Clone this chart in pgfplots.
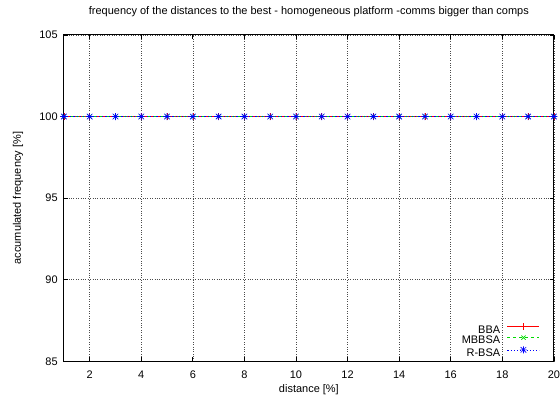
\documentclass[border=0pt]{standalone}
\usepackage{fontspec}
\setmainfont{Liberation Sans}
\usepackage{pgfplots}
\pgfplotsset{compat=1.18}
\newcommand\fs{\fontsize{11bp}{13bp}\selectfont}
\definecolor{gpred}{RGB}{255,0,0}
\definecolor{gpgreen}{RGB}{0,220,0}
\definecolor{gpblue}{RGB}{0,0,255}
\pgfdeclareplotmark{gpstar}{%
 \pgfpathmoveto{\pgfqpoint{-\pgfplotmarksize}{0pt}}\pgfpathlineto{\pgfqpoint{\pgfplotmarksize}{0pt}}%
 \pgfpathmoveto{\pgfqpoint{0pt}{-\pgfplotmarksize}}\pgfpathlineto{\pgfqpoint{0pt}{\pgfplotmarksize}}%
 \pgfpathmoveto{\pgfqpoint{-.8\pgfplotmarksize}{-.8\pgfplotmarksize}}\pgfpathlineto{\pgfqpoint{.8\pgfplotmarksize}{.8\pgfplotmarksize}}%
 \pgfpathmoveto{\pgfqpoint{-.8\pgfplotmarksize}{.8\pgfplotmarksize}}\pgfpathlineto{\pgfqpoint{.8\pgfplotmarksize}{-.8\pgfplotmarksize}}%
 \pgfusepathqstroke}
\begin{document}
\begin{tikzpicture}
\path (0,0) rectangle (560bp,401bp);
\begin{axis}[
 at={(64bp,39bp)}, anchor=south west,
 scale only axis, width=491bp, height=327bp,
 xmin=1, xmax=20, ymin=85, ymax=105,
 xtick={2,4,...,20}, ytick={85,90,...,105},
 grid=major, grid style={dotted, black!70, line width=0.6bp},
 tick align=inside, major tick length=4bp,
 axis line style={line width=0.9bp, black},
 tick style={black, line width=0.7bp},
 /pgf/number format/assume math mode=true,
 xticklabel style={font=\fs, anchor=center, inner sep=0pt, yshift=-13bp},
 yticklabel style={font=\fs, anchor=east, inner sep=0pt, xshift=-6bp},
 title={frequency of the distances to the best - homogeneous platform -comms bigger than comps},
 title style={font=\fs, at={(axis description cs:0.5,1)}, anchor=center, yshift=17bp},
 xlabel={distance [\%]},
 xlabel style={font=\fs, at={(axis description cs:0.5,0)}, anchor=center, yshift=-28bp},
 ylabel={accumulated frequency [\%]},
 ylabel style={font=\fs, at={(axis description cs:-0.0937,0.5)}, anchor=center, rotate=0},
 clip=false,
 legend style={draw=none, fill=none, at={(axis description cs:1,0)}, anchor=south east,
   xshift=-14bp, yshift=2.5bp, inner sep=0pt, font=\fs,
   nodes={inner sep=0pt, text height=8bp, text depth=2.5bp},
   column sep=7bp, row sep=0pt},
 legend cell align=right, legend plot pos=right,
 legend image code/.code={\draw[mark repeat=2,mark phase=2,#1] plot coordinates {(0bp,3.5bp) (16bp,3.5bp) (32bp,3.5bp)};},
]
\addplot[gpred, line width=0.6bp, mark=+, mark size=3.5bp, mark options={solid}] coordinates {
(1,100) (2,100) (3,100) (4,100) (5,100) (6,100) (7,100) (8,100) (9,100) (10,100)
(11,100) (12,100) (13,100) (14,100) (15,100) (16,100) (17,100) (18,100) (19,100) (20,100)};
\addlegendentry{BBA}
\addplot[gpgreen, line width=0.6bp, dash pattern=on 3bp off 3bp, mark=x, mark size=3bp, mark options={solid}] coordinates {
(1,100) (2,100) (3,100) (4,100) (5,100) (6,100) (7,100) (8,100) (9,100) (10,100)
(11,100) (12,100) (13,100) (14,100) (15,100) (16,100) (17,100) (18,100) (19,100) (20,100)};
\addlegendentry{MBBSA}
\addplot[gpblue, line width=0.6bp, dash pattern=on 1.2bp off 2bp, mark=gpstar, mark size=3.5bp, mark options={solid}] coordinates {
(1,100) (2,100) (3,100) (4,100) (5,100) (6,100) (7,100) (8,100) (9,100) (10,100)
(11,100) (12,100) (13,100) (14,100) (15,100) (16,100) (17,100) (18,100) (19,100) (20,100)};
\addlegendentry{R-BSA}
\end{axis}
\end{tikzpicture}
\end{document}
